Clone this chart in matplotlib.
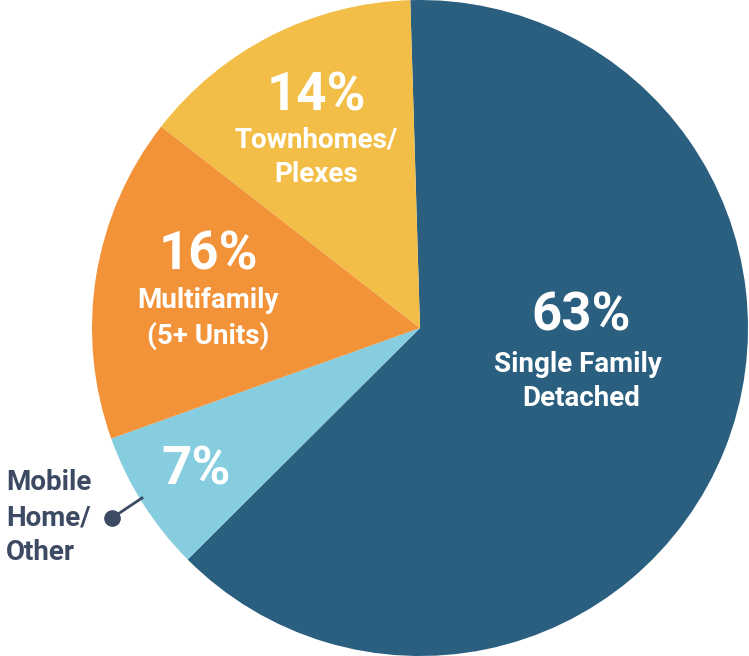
import matplotlib
matplotlib.use("Agg")
import matplotlib.pyplot as plt

categories = ["Single Family Detached", "Mobile Home/Other", "Multifamily (5+ Units)", "Townhomes/Plexes"]
values = [63, 7, 16, 14]
colors = ["#2a5f80", "#86cde0", "#f2933a", "#f2be47"]

W, H = 749, 656
fig = plt.figure(figsize=(W / 100, H / 100), dpi=100)
ax = fig.add_axes([0, 0, 1, 1])
ax.set_xlim(0, W)
ax.set_ylim(0, H)
ax.set_aspect("equal")
ax.axis("off")

cx, cy, r = 420, 328, 328
ax.pie(values, colors=colors, center=(cx, cy), radius=r, startangle=91.7,
       counterclock=False, wedgeprops=dict(linewidth=0))
ax.set_xlim(0, W)
ax.set_ylim(0, H)

font = "Roboto"
white = "white"
PCT = 38
LBL = 20

def t(x, y, s, size, color=white, ha="center"):
    ax.text(x, H - y, s, fontsize=size, color=color, ha=ha, va="center",
            fontfamily=font, fontweight="bold")

# Single family
t(581, 316, "63%", PCT)
t(578, 365, "Single Family", LBL)
t(581, 399, "Detached", LBL)
# Townhomes
t(316, 96, "14%", PCT)
t(316, 140, "Townhomes/", LBL)
t(316, 175, "Plexes", LBL)
# Multifamily
t(208, 255, "16%", PCT)
t(208, 300, "Multifamily", LBL)
t(208, 336, "(5+ Units)", LBL)
# Mobile
t(196, 470, "7%", PCT)
lab = "#3d4a63"
t(6, 483, "Mobile", LBL, color=lab, ha="left")
t(6, 518, "Home/", LBL, color=lab, ha="left")
t(6, 552, "Other", LBL, color=lab, ha="left")
ax.plot([112, 142], [H - 518, H - 498], color=lab, lw=2)
ax.plot([112], [H - 518], "o", color=lab, markersize=11)

fig.savefig("out.png", dpi=100)
